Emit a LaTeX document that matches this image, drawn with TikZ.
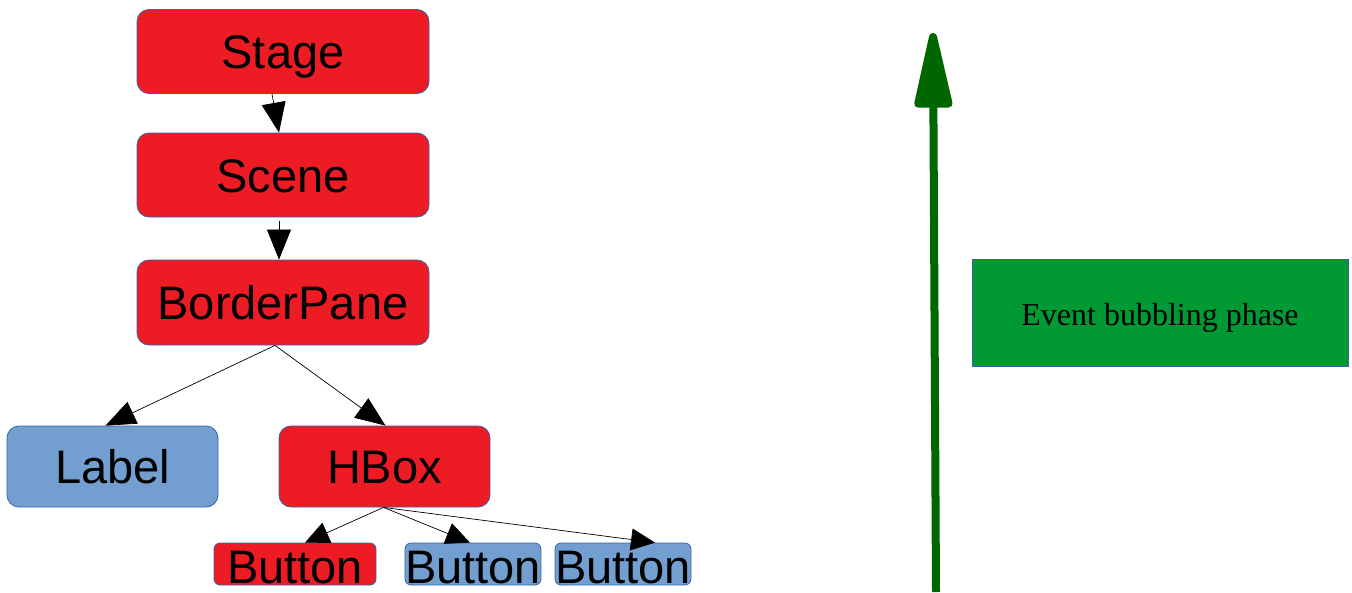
\documentclass[tikz,border=0pt]{standalone}
\usepackage{fontspec}
\setmainfont{Liberation Sans}
\newfontfamily\serifface{Liberation Serif}
\usetikzlibrary{arrows.meta}
\definecolor{boxred}{RGB}{237,28,36}
\definecolor{boxblue}{RGB}{114,159,207}
\definecolor{boxline}{RGB}{52,101,164}
\definecolor{phasegreen}{RGB}{0,153,51}
\definecolor{arrowgreen}{RGB}{0,102,0}
\begin{document}
\begin{tikzpicture}[x=1pt,y=-1pt,
  box/.style={draw=boxline,line width=0.8pt,rounded corners=12pt,inner sep=0pt,
    font=\fontsize{47}{51}\selectfont,text height=34pt,text depth=0pt},
  redbox/.style={box,fill=boxred},
  bluebox/.style={box,fill=boxblue},
  smallbox/.style={rounded corners=6pt,text height=39pt},
  link/.style={line width=0.7pt,-{Triangle[length=30pt,width=24pt]}},
  smalllink/.style={line width=0.7pt,-{Triangle[length=24pt,width=22pt]}}]
  \useasboundingbox (0,0) rectangle (1352,592);

  % tree of scene graph nodes
  \node[redbox,minimum width=292pt,minimum height=84pt] (stage) at (283,51.5) {Stage};
  \node[redbox,minimum width=292pt,minimum height=84pt] (scene) at (283,175) {Scene};
  \node[redbox,minimum width=292pt,minimum height=85pt] (border) at (283,302.5) {BorderPane};
  \node[bluebox,minimum width=211pt,minimum height=81pt] (label) at (112.5,466.5) {Label};
  \node[redbox,minimum width=211pt,minimum height=81pt] (hbox) at (384.5,466.5) {HBox};
  \node[redbox,smallbox,minimum width=162pt,minimum height=42pt] (btna) at (295,564) {Button};
  \node[bluebox,smallbox,minimum width=130pt,minimum height=42pt] (btnb) at (473,564) {Button};
  \node[bluebox,smallbox,minimum width=132pt,minimum height=42pt] (btnc) at (623,564) {Button};

  \draw[link] ([xshift=-11pt]stage.south) -- ([xshift=-4pt]scene.north);
  \draw[link] ([xshift=-4pt,yshift=-4pt]scene.south) -- ([xshift=-4pt]border.north);
  \draw[link] ([xshift=-8pt]border.south) -- ([xshift=-7pt]label.north);
  \draw[link] ([xshift=-8pt]border.south) -- ([xshift=1pt]hbox.north);
  \draw[smalllink] ([xshift=-1pt]hbox.south) -- ([xshift=10pt]btna.north);
  \draw[smalllink] ([xshift=-1pt]hbox.south) -- ([xshift=-3pt]btnb.north);
  \draw[smalllink] ([xshift=-1pt]hbox.south) -- ([xshift=32pt]btnc.north);

  % propagation direction
  \coordinate (arrowfoot) at (936,592);
  \coordinate (arrowtip) at (933,33);
  \draw[arrowgreen,line width=8pt,line join=round,
    -{Triangle[length=90pt,width=38pt,round]}] (arrowfoot) -- (arrowtip);

  \node[draw=boxline,line width=0.8pt,fill=phasegreen,minimum width=376pt,minimum height=107pt,
    inner sep=0pt,font=\serifface\fontsize{32}{36}\selectfont,text height=24pt,text depth=0pt]
    (phase) at (1160,313) {Event bubbling phase};
\end{tikzpicture}
\end{document}
